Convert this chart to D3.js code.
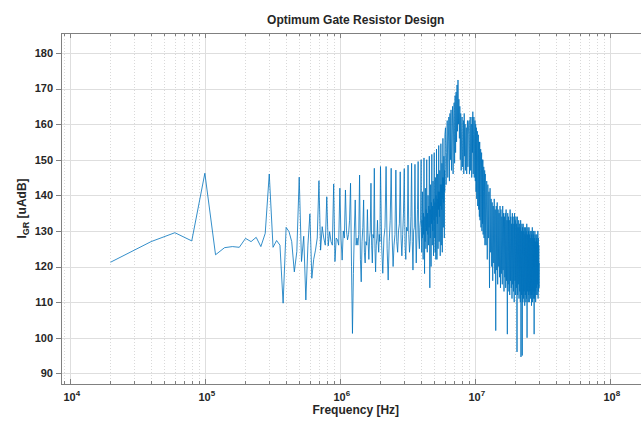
<!DOCTYPE html>
<html><head><meta charset="utf-8">
<script src="https://cdn.jsdelivr.net/npm/d3@7"></script>
<style>
body{margin:0;background:#fff;}
svg{display:block;}
text{font-family:Helvetica,Arial,"Liberation Sans",sans-serif;font-weight:bold;fill:#262626;}
</style></head><body>
<svg id="c" width="641" height="421"></svg>
<script>
// ---- chart data ----
const titleText = "Optimum Gate Resistor Design";
const xLabelText = "Frequency [Hz]";
const yLabelMain = "I", yLabelSub = "GR", yLabelRest = " [uAdB]";
const yTickValues = [90, 100, 110, 120, 130, 140, 150, 160, 170, 180];
const xDecadeExponents = [4, 5, 6, 7, 8];
const xLim = [8.6e3, 2.0e8];
const yLim = [87, 185.6];
const sampleStepHz = 20000;       // spectrum bin width (20 kHz)

// bins n = 1..100 (f = n * 20 kHz), every bin
const segA = [
 121.2,127.0,129.5,127.2,146.2,123.3,125.3,125.6,125.4,127.9,
 127.0,128.2,125.6,129.3,146.0,125.4,127.3,126.0,109.7,131.0,
 129.8,127.0,118.5,124.2,145.1,121.4,128.5,110.6,126.0,134.8,
 116.7,122.0,124.6,128.0,144.1,124.6,131.2,128.0,126.0,139.6,
 125.8,129.8,127.0,126.0,143.2,121.4,128.0,127.5,126.0,142.0,
 128,121.8,130,128,141.5,130,127.5,129,133,143.4,
 120,101.2,118,130,138.7,126,128,126,129,145.7,
 122,115.7,127,131,138.7,124,121,127,126,136,
 127,122,128,130,143.4,126,121,129,128,147.6,
 125,118.5,126,128,133,127,124,129,127,148.1
];
// bins n = 102..200, every 2nd bin
const segBStart = 102, segBStride = 2;
const segB = [
 126,118.1,128,131,
 148.1,125,116.2,127,133,
 147.6,128,120,126,129,
 147.1,127,124,130,132,
 146.6,128,123,129,135,
 147.5,126,122,131,130,
 148.5,129,124,127,134,
 149,127,119,130,131,
 148.7,130,121,128,136,
 149.5,128,125,131,133,
 150
];
// bins n = 201..300, every bin
const segB2Start = 201, segB2Stride = 1;
const segB2 = [
 131,124,133,128,141,130,122,135,129,150.5,
 132,118,134,127,142,131,125,136,130,150,
 130,124,135,129,140,133,126,137,131,151,
 133,114,136,128,143,132,120,138,132,151.5,
 134,126,137,130,144,134,123,139,133,152,
 135,128,138,124,145,135,122,140,134,153,
 136,122,139,132,146,137,125,141,136,154,
 138,127,141,134,147,139,123,143,137,154.5,
 140,126,143,136,149,141,124,145,139,156,
 142,131,145,138,151,143,128,147,141,157
];
// bins n = 303..600, every 3rd bin
const segC1Start = 303, segC1Stride = 3;
const segC1 = [
 159,143,152,161,145,155,162,144,163,150,
 164,147,157,165,146,160,166,149,168,152,
 169,155,171,158,172.4,160,167,156,165,150,
 163,147,158,162,148,155,161,146,163,151,
 160,147,155,159,146,158,161,148,157,160,
 161,146,156,162,147,159,160,145,162,152,
 163.5,146,157,162,145,158,161,144,160,141,
 159,139,152,158,137,150,157,136,155,134,
 155,133,147,153,131,145,152,130,150,132,
 150,129,141,148,128,140,147,126,146,130
];
// bins n = 606..1500, every 6th bin
const segC2Start = 606, segC2Stride = 6;
const segC2 = [
 126,144,122,143,128,141,114,142,124,
 139,120,138,116,137,121,139,118,136,102,
 137,119,138,115,136,120,135,117,137,114,
 136,118,134,115,137,119,135,113,134,117,
 135,114,136,116,133,101,135,115,134,113,
 133,112,136,116,134,114,132,111,135,115,
 134,113,132,110,135,116,133,112,134,114,
 132,96,134,112,131,115,133,111,132,113,
 131,110,133,94.6,130,112,132,95,131,110,
 132,111,130,113,131,109,129,112,131,110,
 130,111,132,100,129,113,131,110,130,112,
 131,110,129,113,130,111,128,112,130,109,
 129,112,131,110,128,113,130,111,129,101,
 128,111,130,113,127,110,129,112,128,114,
 129,112,127,115,130,111,128,113,126,114,
 121
];

// ---- assemble series ----
const pts = [];
segA.forEach((v, i) => pts.push({f: (i + 1) * sampleStepHz, v}));
[[segB, segBStart, segBStride], [segB2, segB2Start, segB2Stride],
 [segC1, segC1Start, segC1Stride], [segC2, segC2Start, segC2Stride]]
 .forEach(([arr, s, st]) => arr.forEach((v, i) => pts.push({f: (s + i * st) * sampleStepHz, v})));

// ---- layout ----
const L = 61, R = 650.5, T = 33, B = 384;
const svg = d3.select("#c");
const x = d3.scaleLog().domain(xLim).range([L, R]);
const y = d3.scaleLinear().domain(yLim).range([B, T]);

svg.append("rect").attr("width", 641).attr("height", 421).attr("fill", "#fff");

// minor x grid
const minor = [];
for (let e = 3; e <= 8; e++) for (let k = 2; k <= 9; k++) {
  const f = k * Math.pow(10, e);
  if (f > xLim[0] && f < xLim[1]) minor.push(f);
}
const major = xDecadeExponents.map(e => Math.pow(10, e));
const g = svg.append("g");
g.selectAll(".mg").data(minor).enter().append("line")
  .attr("x1", d => Math.round(x(d)) + 0.5).attr("x2", d => Math.round(x(d)) + 0.5)
  .attr("y1", T).attr("y2", B)
  .attr("stroke", "#cfcfcf").attr("stroke-width", 0.8).attr("stroke-dasharray", "1,2");
g.selectAll(".Mg").data(major).enter().append("line")
  .attr("x1", d => Math.round(x(d)) + 0.5).attr("x2", d => Math.round(x(d)) + 0.5)
  .attr("y1", T).attr("y2", B)
  .attr("stroke", "#dedede").attr("stroke-width", 1);
g.selectAll(".yg").data(yTickValues).enter().append("line")
  .attr("x1", L).attr("x2", R)
  .attr("y1", d => Math.round(y(d)) + 0.5).attr("y2", d => Math.round(y(d)) + 0.5)
  .attr("stroke", "#dedede").attr("stroke-width", 1);

// data line
svg.append("clipPath").attr("id", "clip").append("rect")
  .attr("x", L).attr("y", T).attr("width", R - L).attr("height", B - T);
svg.append("path").datum(pts)
  .attr("clip-path", "url(#clip)")
  .attr("d", d3.line().x(d => x(d.f)).y(d => y(d.v)))
  .attr("fill", "none").attr("stroke", "#0072BD").attr("stroke-width", 0.8)
  .attr("stroke-linejoin", "round");

// frame
const axCol = "#808080";
svg.append("rect").attr("x", L + 0.5).attr("y", T + 0.5)
  .attr("width", R - L).attr("height", B - T)
  .attr("fill", "none").attr("stroke", axCol).attr("stroke-width", 1);

// x ticks (inside, top and bottom)
const tk = svg.append("g").attr("stroke", axCol).attr("stroke-width", 1);
major.forEach(f => {
  const xx = Math.round(x(f)) + 0.5;
  tk.append("line").attr("x1", xx).attr("x2", xx).attr("y1", B).attr("y2", B - 5);
  tk.append("line").attr("x1", xx).attr("x2", xx).attr("y1", T).attr("y2", T + 5);
});
minor.forEach(f => {
  const xx = Math.round(x(f)) + 0.5;
  tk.append("line").attr("x1", xx).attr("x2", xx).attr("y1", B).attr("y2", B - 3);
  tk.append("line").attr("x1", xx).attr("x2", xx).attr("y1", T).attr("y2", T + 3);
});
// y ticks
yTickValues.forEach(v => {
  const yy = Math.round(y(v)) + 0.5;
  tk.append("line").attr("x1", L - 5).attr("x2", L).attr("y1", yy).attr("y2", yy);
});

// y tick labels
svg.selectAll(".yl").data(yTickValues).enter().append("text")
  .attr("x", L - 8).attr("y", d => y(d) + 3.8)
  .attr("text-anchor", "end").attr("font-size", 11).text(d => d);

// x tick labels 10^e
xDecadeExponents.forEach(e => {
  const t = svg.append("text").attr("x", x(Math.pow(10, e)) + 2).attr("y", 401)
    .attr("text-anchor", "middle").attr("font-size", 11);
  t.append("tspan").text("10");
  t.append("tspan").attr("dy", -5).attr("font-size", 8).text(e);
});

// title
svg.append("text").attr("x", (L + R) / 2).attr("y", 24)
  .attr("text-anchor", "middle").attr("font-size", 12).text(titleText);
// x label
svg.append("text").attr("x", (L + R) / 2).attr("y", 414)
  .attr("text-anchor", "middle").attr("font-size", 12).text(xLabelText);
// y label
const yl = svg.append("text")
  .attr("transform", `translate(26,${(T + B) / 2}) rotate(-90)`)
  .attr("text-anchor", "middle").attr("font-size", 12);
yl.append("tspan").text(yLabelMain);
yl.append("tspan").attr("dy", 3).attr("font-size", 9).text(yLabelSub);
yl.append("tspan").attr("dy", -3).text(yLabelRest);
</script>
</body></html>
